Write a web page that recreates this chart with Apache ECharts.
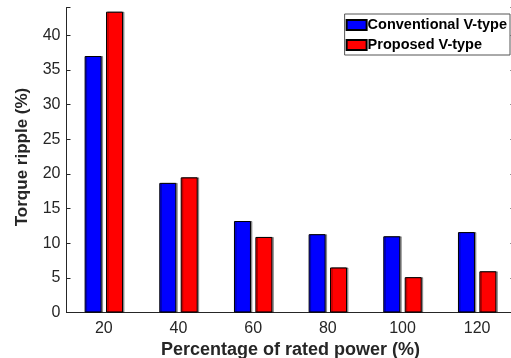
<!DOCTYPE html>
<html>
<head>
<meta charset="utf-8">
<script src="https://cdn.jsdelivr.net/npm/echarts@6/dist/echarts.min.js"></script>
<style>
  html, body { margin: 0; padding: 0; background: #fff; }
  #chart { width: 511px; height: 358px; }
</style>
</head>
<body>
<div id="chart"></div>
<script>
// rated power levels (%)
const categories = ['20', '40', '60', '80', '100', '120']
// torque ripple (%)
const conventional = [37.0, 18.7, 13.2, 11.3, 11.0, 11.6]
const proposed = [43.4, 19.5, 10.9, 6.5, 5.1, 5.95]
const yTicks = [0, 5, 10, 15, 20, 25, 30, 35, 40]

const font = 'Arial, "Liberation Sans", Helvetica, sans-serif'
const axisColor = '#262626'

const chart = echarts.init(document.getElementById('chart'), null, { renderer: 'canvas' })

const lineStyle = { color: axisColor, width: 1 }

const option = {
  animation: false,
  backgroundColor: '#fff',
  grid: {
    left: 66.5,
    right: -3.5,
    top: 7.5,
    bottom: 45.5,
    containLabel: false,
    outerBoundsMode: 'none'
  },
  legend: {
    orient: 'vertical',
    icon: 'rect',
    right: 1,
    top: 14,
    itemWidth: 20,
    itemHeight: 10,
    itemGap: 4,
    padding: [3, 3, 2, 1],
    borderColor: '#555',
    borderWidth: 1,
    backgroundColor: '#fff',
    textStyle: {
      fontFamily: font,
      fontSize: 14.5,
      fontWeight: 'bold',
      color: '#000',
      lineHeight: 16,
      padding: [0, 0, 0, -4]
    },
    data: ['Conventional V-type', 'Proposed V-type']
  },
  xAxis: [
    {
      type: 'category',
      data: categories,
      position: 'bottom',
      axisLine: { lineStyle },
      axisTick: { inside: true, alignWithLabel: true, length: 4, lineStyle },
      axisLabel: {
        fontFamily: font,
        fontSize: 16,
        color: axisColor,
        margin: 8
      },
      name: 'Percentage of rated power (%)',
      nameLocation: 'middle',
      nameGap: 25,
      nameTextStyle: {
        fontFamily: font,
        fontSize: 18,
        fontWeight: 'bold',
        color: axisColor
      },
      splitLine: { show: false }
    },
    {
      type: 'category',
      data: categories,
      position: 'top',
      axisLine: { lineStyle },
      axisTick: { inside: true, alignWithLabel: true, length: 4, lineStyle },
      axisLabel: { show: false },
      splitLine: { show: false }
    }
  ],
  yAxis: [
    {
      type: 'value',
      min: 0,
      max: 44,
      interval: 5,
      position: 'left',
      axisLine: { show: true, lineStyle },
      axisTick: { show: true, inside: true, length: 4, lineStyle },
      axisLabel: {
        fontFamily: font,
        fontSize: 16,
        color: axisColor,
        margin: 6,
        formatter: v => (yTicks.includes(v) ? String(v) : '')
      },
      splitLine: { show: false },
      name: 'Torque ripple (%)',
      nameLocation: 'middle',
      nameGap: 36,
      nameTextStyle: {
        fontFamily: font,
        fontSize: 17,
        fontWeight: 'bold',
        color: axisColor,
        padding: [0, 0, 0, 6]
      }
    },
    {
      type: 'value',
      min: 0,
      max: 44,
      interval: 5,
      position: 'right',
      axisLine: { show: true, lineStyle },
      axisTick: { show: true, inside: true, length: 4, lineStyle },
      axisLabel: { show: false },
      splitLine: { show: false }
    }
  ],
  series: [
    {
      name: 'Conventional V-type',
      type: 'bar',
      data: conventional,
      barWidth: 17,
      barGap: '26%',
      itemStyle: {
        color: '#0000ff',
        borderColor: '#000',
        borderWidth: 1,
        shadowColor: 'rgba(0,0,0,0.35)',
        shadowOffsetX: 1.5,
        shadowBlur: 0
      }
    },
    {
      name: 'Proposed V-type',
      type: 'bar',
      data: proposed,
      barWidth: 17,
      itemStyle: {
        color: '#ff0000',
        borderColor: '#000',
        borderWidth: 1,
        shadowColor: 'rgba(0,0,0,0.35)',
        shadowOffsetX: 1.5,
        shadowBlur: 0
      }
    }
  ]
}

chart.setOption(option)
</script>
</body>
</html>
